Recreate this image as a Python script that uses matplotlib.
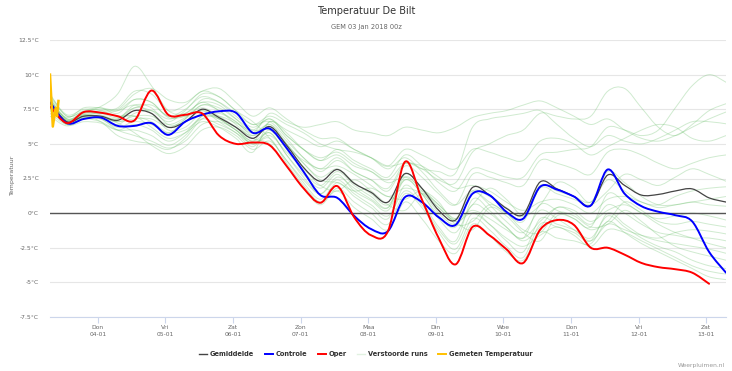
import numpy as np
import matplotlib
matplotlib.use("Agg")
import matplotlib.pyplot as plt
from matplotlib.path import Path
from matplotlib.patches import PathPatch
from matplotlib.lines import Line2D

plt.rcParams['font.family'] = ['DejaVu Sans']

# tijd in dagen sinds 03-01 00z, stappen van 6 uur
t0 = 7 / 24
n_steps = 41
times = [t0 + 0.25 * k for k in range(n_steps)]

tick_pos = [1, 2, 3, 4, 5, 6, 7, 8, 9, 10]
tick_labels = ["Don\n04-01", "Vri\n05-01", "Zat\n06-01", "Zon\n07-01", "Maa\n08-01",
               "Din\n09-01", "Woe\n10-01", "Don\n11-01", "Vri\n12-01", "Zat\n13-01"]
y_ticks = [-7.5, -5, -2.5, 0, 2.5, 5, 7.5, 10, 12.5]
y_labels = ["-7.5°C", "-5°C", "-2.5°C", "0°C", "2.5°C", "5°C", "7.5°C", "10°C", "12.5°C"]

gemiddelde = [8.0, 6.6, 7.0, 7.0, 6.7, 7.4, 7.2, 6.2, 6.6, 7.5, 6.9, 6.2, 5.4, 6.25, 4.9,
              3.3, 2.3, 3.15, 2.15, 1.5, 0.8, 2.85, 1.8, 0.2, -0.5, 1.85, 1.3, 0.35, -0.1,
              2.25, 1.75, 1.2, 0.55, 2.75, 2.0, 1.3, 1.35, 1.6, 1.75, 1.1, 0.8]
controle = [8.0, 6.5, 6.8, 6.9, 6.3, 6.3, 6.5, 5.65, 6.6, 7.1, 7.35, 7.25, 5.8, 6.1, 4.7,
            3.0, 1.3, 1.1, -0.2, -1.15, -1.3, 1.15, 0.8, -0.3, -0.85, 1.4, 1.3, 0.1, -0.4,
            1.9, 1.7, 1.2, 0.55, 3.15, 1.4, 0.5, 0.1, -0.15, -0.6, -2.8, -4.3]
oper = [7.7, 6.5, 7.3, 7.25, 7.0, 6.7, 8.85, 7.1, 7.1, 7.2, 5.6, 5.0, 5.1, 4.9, 3.4,
        1.8, 0.75, 1.95, -0.3, -1.6, -1.3, 3.7, 1.0, -1.8, -3.7, -1.0, -1.6, -2.6, -3.6,
        -1.2, -0.5, -0.85, -2.5, -2.5, -3.0, -3.6, -3.9, -4.05, -4.3, -5.1, np.nan]

# gemeten temperatuur (uren na start)
gemeten_uur = [0, 1, 2, 2.5, 3]
gemeten = [10.0, 6.25, 7.6, 7.0, 8.1]

m01 = [8.6, 7.0, 7.4, 7.6, 7.2, 8.2, 8.0, 7.0, 7.5, 8.4, 8.0, 7.0, 6.2,
       6.8, 5.8, 4.6, 3.8, 4.6, 3.8, 3.2, 2.6, 4.2, 3.4, 2.2, 1.6,
       3.2, 3.0, 2.6, 2.6, 4.2, 4.4, 4.6, 4.8,
       6.2, 6.0, 5.6, 6.0, 7.6, 9.2, 10.0, 9.45]
m02 = [7.8, 6.4, 6.6, 6.5, 6.0, 6.4, 6.0, 5.2, 5.8, 7.0, 6.8, 6.2, 5.6,
       6.4, 5.2, 4.0, 3.0, 3.8, 3.0, 2.4, 1.8, 3.6, 3.2, 2.4, 2.2,
       4.4, 5.0, 5.6, 6.0, 7.2, 7.0, 6.8, 7.0,
       8.8, 9.0, 7.6, 6.2, 5.6, 6.4, 7.4, 7.9]
m03 = [8.2, 6.8, 7.3, 7.7, 8.6, 10.6, 9.2, 7.4, 7.2, 8.0, 7.4, 6.6, 5.8,
       7.2, 6.6, 6.2, 6.4, 6.6, 6.0, 5.8, 5.6, 6.2, 6.0, 5.8, 6.2,
       6.9, 7.2, 7.4, 7.8, 8.1, 7.6, 7.0, 6.4,
       6.8, 6.0, 5.4, 5.2, 5.6, 6.2, 6.8, 7.3]
m04 = [7.4, 6.5, 7.0, 6.6, 5.6, 5.2, 5.0, 4.6, 5.4, 6.8, 7.0, 6.5, 6.0,
       6.8, 5.6, 4.6, 3.8, 4.2, 3.4, 3.0, 2.4, 3.6, 3.2, 3.0, 2.9,
       6.2, 6.8, 7.0, 7.2, 7.4, 6.4, 5.4, 4.8,
       5.6, 5.2, 5.0, 5.4, 6.0, 6.6, 6.6, 6.45]
m05 = [8.0, 6.9, 7.6, 7.6, 7.5, 8.6, 9.0, 8.2, 8.0, 8.8, 9.0, 8.0, 7.0,
       7.6, 6.8, 6.0, 5.4, 5.4, 4.6, 4.0, 3.4, 4.6, 4.2, 3.6, 3.2,
       4.6, 4.4, 4.0, 3.8, 5.2, 5.4, 5.0, 4.2,
       4.8, 5.4, 6.0, 6.4, 6.2, 5.4, 5.2, 5.6]
m06 = [7.6, 6.4, 6.9, 6.8, 6.2, 6.6, 6.4, 5.8, 6.8, 8.2, 8.0, 7.2, 6.4,
       6.6, 5.4, 4.0, 3.2, 4.0, 3.0, 2.4, 1.6, 3.4, 2.6, 1.4, 0.6,
       2.8, 2.6, 2.2, 2.0, 3.8, 3.6, 3.2, 2.8,
       4.4, 4.6, 4.2, 3.6, 3.2, 3.6, 4.0, 4.2]
m07 = [8.4, 7.0, 7.3, 7.1, 6.8, 7.8, 7.6, 6.4, 6.6, 7.4, 6.8, 6.0, 5.0,
       5.8, 4.2, 2.8, 1.8, 2.8, 1.6, 0.9, 0.2, 2.4, 1.4, -0.2, -1.0,
       1.4, 0.8, 0.0, -0.6, 1.8, 1.4, 1.0, 0.6,
       1.6, 2.8, 2.4, 2.0, 2.6, 3.2, 2.8, 2.3]
m08 = [7.0, 6.3, 6.8, 6.9, 6.5, 5.8, 4.9, 4.3, 4.8, 6.0, 6.2, 5.6, 4.6,
       5.2, 3.8, 2.4, 1.4, 2.6, 1.8, 1.0, 0.4, 2.8, 1.8, 0.4, -0.4,
       1.6, 1.2, 0.4, -0.2, 2.0, 1.6, 1.2, 0.8,
       2.4, 1.6, 0.8, 0.6, 1.2, 1.6, 1.8, 1.9]
m09 = [8.1, 6.7, 7.2, 7.4, 7.6, 8.8, 8.6, 7.4, 7.8, 8.8, 8.4, 7.4, 6.4,
       7.0, 6.4, 5.8, 5.0, 4.6, 4.4, 4.0, 3.4, 3.6, 3.4, 2.6, 1.8,
       2.0, 1.6, 0.8, 0.2, 0.8, 1.0, 0.6, 0.0,
       1.0, 1.2, 0.8, 0.4, 0.6, 0.8, 1.0, 1.2]
m10 = [7.9, 6.6, 7.0, 7.2, 7.0, 7.0, 6.6, 5.8, 6.0, 6.8, 6.4, 5.8, 4.8,
       6.0, 4.6, 3.0, 2.0, 3.0, 2.0, 1.2, 0.4, 2.6, 1.6, 0.0, -0.8,
       0.6, 1.8, 1.0, -0.2, 0.6, 2.2, 1.8, 0.8,
       3.0, 2.2, 1.2, 0.6, 0.6, 0.8, 0.6, 0.5]
m11 = [8.3, 6.8, 7.1, 6.9, 6.4, 7.2, 7.4, 6.8, 7.2, 8.0, 7.8, 6.8, 5.8,
       6.4, 5.0, 3.6, 2.6, 3.2, 2.2, 1.4, 0.6, 2.4, 1.4, -0.4, -1.4,
       0.6, 0.0, -1.0, -1.8, 0.6, 0.2, -0.4, -1.0,
       1.4, 0.8, 0.0, -0.4, -0.2, 0.0, -0.2, -0.5]
m12 = [7.7, 6.5, 6.9, 6.8, 6.0, 5.6, 5.2, 4.7, 5.2, 6.4, 6.6, 6.0, 5.0,
       5.6, 4.4, 3.2, 2.0, 1.6, 2.4, 1.6, 0.6, 0.2, 1.4, 0.6, -0.6,
       -1.2, 0.4, -0.2, -1.4, -2.0, -0.2, -0.4, -1.2,
       -0.6, 0.8, 0.2, -0.6, -0.8, -0.6, -0.8, -1.0]
m13 = [8.0, 6.7, 7.2, 7.3, 7.4, 8.2, 8.0, 6.9, 7.0, 7.6, 7.0, 6.2, 5.2,
       6.6, 6.0, 5.4, 4.8, 5.2, 4.6, 4.0, 3.2, 4.0, 3.0, 1.6, 0.6,
       1.6, 0.6, -0.6, -1.4, 0.2, -0.4, -1.2, -2.0,
       -0.8, -1.2, -1.6, -1.8, -1.4, -1.2, -1.3, -1.5]
m14 = [7.5, 6.5, 7.1, 7.2, 6.9, 7.6, 7.4, 6.6, 7.4, 8.6, 8.4, 7.4, 6.6,
       5.4, 3.8, 2.2, 1.0, 2.2, 1.2, 0.4, -0.4, 2.0, 0.8, -1.0, -2.0,
       1.0, 0.2, -1.0, -2.0, -1.0, 0.4, 0.0, -0.8,
       0.6, 0.0, -0.8, -1.4, -1.6, -1.8, -1.8, -2.0]
m15 = [8.5, 7.1, 7.5, 7.4, 7.0, 7.0, 6.2, 5.4, 5.8, 6.6, 6.2, 5.4, 4.4,
       6.6, 5.6, 4.6, 4.0, 4.4, 3.6, 3.0, 2.2, 2.6, 1.8, 0.6, -0.4,
       0.2, -0.4, -1.2, -1.8, -0.6, 0.4, 0.2, -0.6,
       0.2, 0.6, 0.0, -0.8, -1.4, -1.8, -2.2, -2.5]
m16 = [7.9, 6.6, 7.0, 7.0, 6.6, 6.8, 6.8, 6.2, 6.8, 7.8, 7.4, 6.4, 5.4,
       5.0, 3.4, 1.8, 0.6, 1.8, 0.8, 0.0, -0.8, 1.4, 0.4, -1.4, -2.6,
       -0.4, -1.2, -2.4, -3.2, -0.8, -1.0, -1.4, -2.0,
       0.0, -0.8, -1.6, -2.0, -2.2, -2.4, -2.6, -2.9]
m17 = [7.2, 6.4, 6.8, 6.6, 6.0, 6.0, 5.6, 4.9, 5.6, 7.0, 7.2, 6.6, 5.6,
       6.2, 5.0, 3.6, 2.4, 2.2, 1.6, 1.8, 1.2, 1.0, 1.6, 0.8, -0.8,
       -0.6, 0.6, 0.0, -1.2, -1.4, 0.0, -0.2, -1.0,
       -0.8, 0.2, -0.6, -1.6, -2.4, -2.8, -3.1, -3.4]
m18 = [8.2, 6.8, 7.3, 7.5, 7.4, 7.8, 7.2, 6.0, 6.2, 7.2, 6.8, 6.0, 5.2,
       5.8, 4.2, 2.6, 1.4, 2.4, 1.4, 0.6, -0.2, 1.6, 0.6, -1.2, -2.2,
       0.0, -0.8, -2.0, -2.8, -0.4, -0.8, -1.2, -1.8,
       -0.2, -1.0, -1.8, -2.4, -2.8, -3.4, -3.8, -4.0]
m19 = [7.8, 6.6, 7.0, 6.9, 6.6, 7.0, 7.0, 6.4, 6.9, 7.8, 7.6, 6.8, 6.0,
       6.0, 4.8, 3.8, 3.2, 3.4, 2.8, 2.0, 1.2, 1.8, 1.4, 0.4, -0.6,
       0.0, -0.8, -1.8, -2.4, -1.6, -1.0, -1.6, -2.4,
       -1.2, -1.4, -2.0, -2.6, -3.2, -3.8, -4.2, -4.4]
m20 = [8.0, 6.7, 7.1, 7.0, 6.8, 7.6, 7.8, 7.0, 7.0, 7.4, 6.6, 5.8, 5.0,
       5.4, 3.6, 2.0, 0.8, 1.6, 0.4, -0.4, -1.2, 0.8, -0.4, -2.0, -2.9,
       -0.8, -1.6, -2.8, -3.4, -1.4, -1.8, -2.0, -2.2,
       -0.6, -1.4, -2.2, -2.8, -3.4, -4.0, -4.6, -4.8]
verstoord = [m01, m02, m03, m04, m05, m06, m07, m08, m09, m10,
             m11, m12, m13, m14, m15, m16, m17, m18, m19, m20]


def spline_path(xs, ys):
    # vloeiende lijn (zoals highcharts spline), bezier door de punten
    pts = [(x, y) for x, y in zip(xs, ys) if not np.isnan(y)]
    verts = [pts[0]]
    codes = [Path.MOVETO]
    n = len(pts)
    for i in range(n - 1):
        p0 = pts[i - 1] if i > 0 else pts[i]
        p1 = pts[i]
        p2 = pts[i + 1]
        p3 = pts[i + 2] if i + 2 < n else pts[i + 1]
        c1 = (p1[0] + (p2[0] - p0[0]) / 6, p1[1] + (p2[1] - p0[1]) / 6)
        c2 = (p2[0] - (p3[0] - p1[0]) / 6, p2[1] - (p3[1] - p1[1]) / 6)
        verts += [c1, c2, p2]
        codes += [Path.CURVE4] * 3
    return Path(verts, codes)


def add_line(ax, ys, color, lw, alpha=1.0, z=2):
    p = spline_path(times, ys)
    ax.add_patch(PathPatch(p, fill=False, edgecolor=color, lw=lw, alpha=alpha,
                           zorder=z, capstyle='round', joinstyle='round'))


fig = plt.figure(figsize=(7.32, 3.71), dpi=100)
ax = fig.add_axes([50 / 732, 1 - 317 / 371, 676 / 732, 277 / 371])

for m in verstoord:
    add_line(ax, m, '#6cc06c', 0.7, alpha=0.32, z=2)

ax.axhline(0, color='#555555', lw=1.0, zorder=2.5)
add_line(ax, gemiddelde, '#444444', 0.9, z=3)
add_line(ax, controle, '#0000ff', 1.4, z=4)
add_line(ax, oper, '#ff0000', 1.4, z=5)
ax.plot([t0 + h / 24 for h in gemeten_uur], gemeten, color='#ffc000', lw=1.8, zorder=6)

ax.set_xlim(t0, t0 + 10)
ax.set_ylim(-7.5, 12.5)
ax.set_yticks(y_ticks)
ax.set_yticklabels(y_labels)
ax.set_xticks(tick_pos)
ax.set_xticklabels(tick_labels, linespacing=1.3)
ax.grid(axis='y', color='#e6e6e6', lw=0.8, zorder=0)
ax.set_axisbelow(True)
for s in ['top', 'right', 'left']:
    ax.spines[s].set_visible(False)
ax.spines['bottom'].set_color('#ccd6eb')
ax.spines['bottom'].set_linewidth(0.8)
ax.tick_params(axis='y', length=0, pad=8, labelsize=4.3, labelcolor='#666666')
ax.tick_params(axis='x', length=4, width=0.8, color='#ccd6eb', pad=2,
               labelsize=4.3, labelcolor='#666666')

fig.text(0.5, 1 - 11 / 371, "Temperatuur De Bilt", ha='center', va='center',
         fontsize=7, color='#333333')
fig.text(0.5, 1 - 27 / 371, "GEM 03 Jan 2018 00z", ha='center', va='center',
         fontsize=4.8, color='#666666')
fig.text(12 / 732, 1 - 175 / 371, "Temperatuur", rotation=90, ha='center',
         va='center', fontsize=4.5, color='#666666')
fig.text(725 / 732, 1 - 365 / 371, "Weerpluimen.nl", ha='right', va='center',
         fontsize=4.3, color='#999999')

handles = [Line2D([], [], color='#444444', lw=1),
           Line2D([], [], color='#0000ff', lw=1.4),
           Line2D([], [], color='#ff0000', lw=1.4),
           Line2D([], [], color='#6cc06c', lw=1, alpha=0.2),
           Line2D([], [], color='#ffc000', lw=1.4)]
labels = ["Gemiddelde", "Controle", "Oper", "Verstoorde runs", "Gemeten Temperatuur"]
fig.legend(handles, labels, loc='center', bbox_to_anchor=(0.5, 1 - 354 / 371),
           ncol=5, frameon=False, handlelength=1.2, handletextpad=0.4,
           columnspacing=1.6, prop={'size': 4.8, 'weight': 'bold'}, labelcolor='#333333')

fig.savefig("out.png", dpi=100)
